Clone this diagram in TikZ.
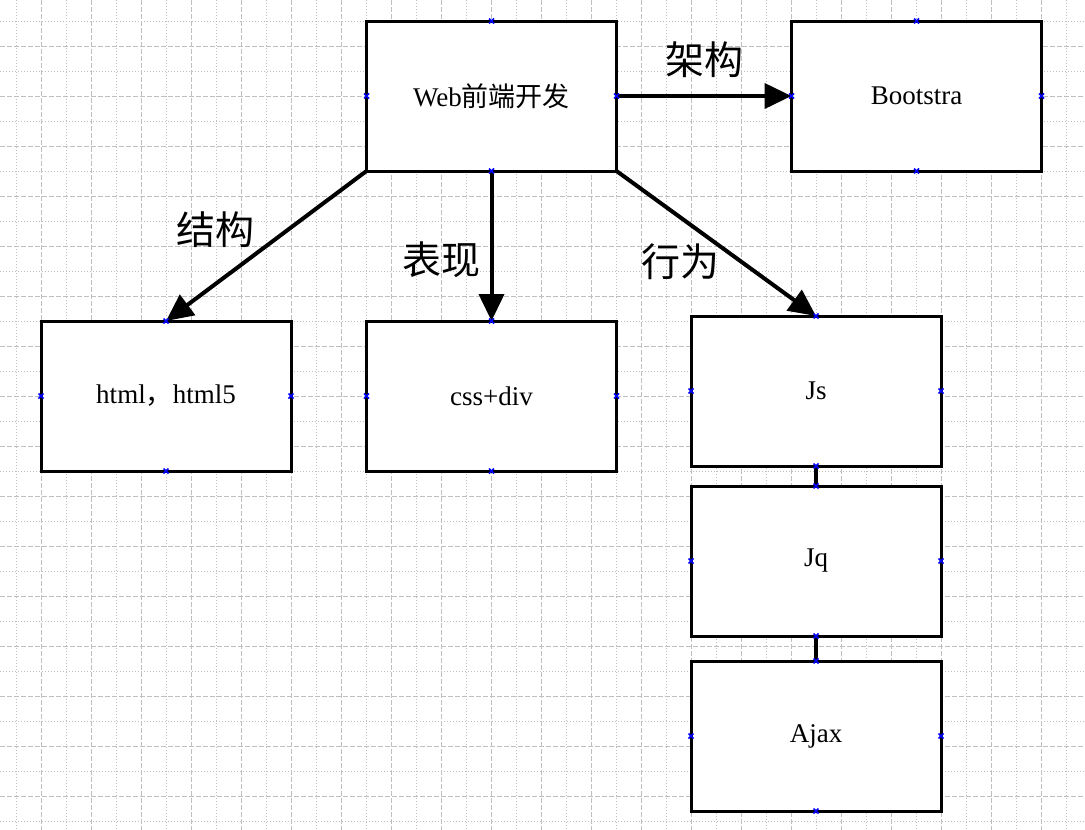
\documentclass[tikz,border=0pt]{standalone}
\usepackage{fontspec}
\setmainfont{Liberation Serif}
\newfontfamily\cjk{Noto Sans CJK SC}
\usetikzlibrary{arrows.meta}
\tikzset{
  box/.style={draw=black, line width=3pt, fill=white, minimum width=250pt, minimum height=150pt, inner sep=0pt, outer sep=0pt, font=\fontsize{27}{32}\selectfont},
  arr/.style={line width=4pt, -{Triangle[length=27pt,width=25pt]}},
  link/.style={line width=4pt},
  lbl/.style={font=\cjk\fontsize{39}{44}\selectfont, inner sep=0pt},
  gdot/.style={draw=black!25, line width=1pt, dash pattern=on 1pt off 2pt},
  gdash/.style={draw=black!25, line width=1pt, dash pattern=on 5pt off 2pt},
  mk/.style={draw=blue, line width=1.6pt}
}
\newcommand{\bluemarks}[1]{%
  \foreach \a in {north,south,east,west}{
    \draw[mk] ([shift={(-2.5pt,-2.5pt)}]#1.\a) -- ([shift={(2.5pt,2.5pt)}]#1.\a);
    \draw[mk] ([shift={(-2.5pt,2.5pt)}]#1.\a) -- ([shift={(2.5pt,-2.5pt)}]#1.\a);
  }}
\begin{document}
\begin{tikzpicture}[x=1pt,y=-1pt]
\useasboundingbox (0,0) rectangle (1085,830);
\fill[white] (0,0) rectangle (1085,830);
% grid
\foreach \i in {0,...,21}{
  \pgfmathsetmacro{\xx}{16.7+50*\i}
  \draw[gdot] (\xx,0) -- (\xx,830);
  \pgfmathsetmacro{\xd}{41.7+50*\i}
  \draw[gdash] (\xd,0) -- (\xd,830);
}
\foreach \j in {0,...,16}{
  \pgfmathsetmacro{\yy}{21+50*\j}
  \draw[gdot] (0,\yy) -- (1085,\yy);
  \pgfmathsetmacro{\yd}{46+50*\j}
  \draw[gdash] (0,\yd) -- (1085,\yd);
}
% boxes
\node[box] (web) at (491.5,96) {Web{\cjk 前端开发}};
\node[box] (boot) at (916.5,96) {Bootstra};
\node[box] (html) at (166,396) {html{\cjk ，}html5};
\node[box] (css) at (491.5,396) {css+div};
\node[box] (js) at (816,391) {Js};
\node[box] (jq) at (816,561) {Jq};
\node[box] (ajax) at (816,736) {Ajax};
% connectors
\draw[arr] (web.east) -- (boot.west);
\draw[arr] (web.south west) -- (html.north);
\draw[arr] (web.south) -- (css.north);
\draw[arr] (web.south east) -- (js.north);
\draw[link] (js.south) -- (jq.north);
\draw[link] (jq.south) -- (ajax.north);
% labels
\node[lbl] (l1) at (704,60) {架构};
\node[lbl] (l2) at (215,230) {结构};
\node[lbl] (l3) at (441,260) {表现};
\node[lbl] (l4) at (680,262) {行为};
% blue marks
\bluemarks{web}\bluemarks{boot}\bluemarks{html}\bluemarks{css}\bluemarks{js}\bluemarks{jq}\bluemarks{ajax}
\end{tikzpicture}
\end{document}
